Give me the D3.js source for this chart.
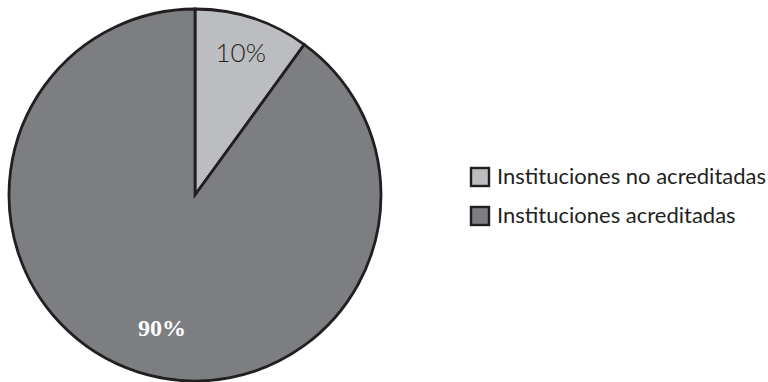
<!DOCTYPE html>
<html>
<head>
<meta charset="utf-8">
<script src="https://cdn.jsdelivr.net/npm/d3@7"></script>
<style>
  html, body { margin: 0; padding: 0; background: #fff; }
  svg { display: block; }
</style>
</head>
<body>
<svg id="chart" width="768" height="382"></svg>
<script>
// Share of institutions by accreditation status
const categories = ["Instituciones no acreditadas", "Instituciones acreditadas"];
const values = [10, 90];
const valueLabels = ["10%", "90%"];
const colors = ["#bcbdc1", "#7d7e82"];

const svg = d3.select("#chart");
const cx = 195, cy = 195, r = 186;
const stroke = "#231f20";

const pie = d3.pie().sort(null).value(d => d)(values);
const arc = d3.arc().innerRadius(0).outerRadius(r);

const g = svg.append("g").attr("transform", `translate(${cx},${cy})`);

g.selectAll("path.slice")
  .data(pie)
  .join("path")
  .attr("class", "slice")
  .attr("d", arc)
  .attr("fill", (d, i) => colors[i])
  .attr("stroke", stroke)
  .attr("stroke-width", 2.8)
  .attr("stroke-linejoin", "miter");

// Value labels placed along each slice's mid angle
const labelRadius = [148, 137];
const labelStyle = [
  { family: "Lato, 'Open Sans', sans-serif", weight: 300, size: 26, fill: "#231f20" },
  { family: "'Liberation Serif', 'DejaVu Serif', serif", weight: 700, size: 24, fill: "#ffffff" }
];
g.selectAll("text.value")
  .data(pie)
  .join("text")
  .attr("class", "value")
  .attr("transform", (d, i) => {
    const a = (d.startAngle + d.endAngle) / 2 - (i === 1 ? 0.07 : 0);
    const rr = labelRadius[i];
    return `translate(${rr * Math.sin(a)},${-rr * Math.cos(a) + 8})`;
  })
  .attr("text-anchor", "middle")
  .attr("font-family", (d, i) => labelStyle[i].family)
  .attr("font-weight", (d, i) => labelStyle[i].weight)
  .attr("font-size", (d, i) => labelStyle[i].size)
  .attr("fill", (d, i) => labelStyle[i].fill)
  .text((d, i) => valueLabels[i]);

// Legend
const legend = svg.append("g").attr("transform", "translate(470,167)");
const item = legend.selectAll("g.item")
  .data(categories)
  .join("g")
  .attr("class", "item")
  .attr("transform", (d, i) => `translate(0,${i * 39})`);

item.append("rect")
  .attr("x", 1).attr("y", 1)
  .attr("width", 18).attr("height", 18)
  .attr("fill", (d, i) => colors[i])
  .attr("stroke", stroke)
  .attr("stroke-width", 2.4);

item.append("text")
  .attr("x", 27)
  .attr("y", 17)
  .attr("font-family", "Lato, 'Open Sans', sans-serif")
  .attr("font-size", 22)
  .attr("fill", "#231f20")
  .text(d => d);
</script>
</body>
</html>
